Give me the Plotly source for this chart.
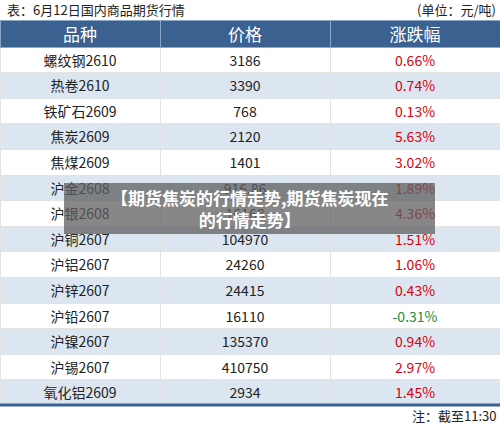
import plotly.graph_objects as go

names = ["螺纹钢2610","热卷2610","铁矿石2609","焦炭2609","焦煤2609","沪金2608","沪银2608","沪铜2607",
         "沪铝2607","沪锌2607","沪铅2607","沪镍2607","沪锡2607","氧化铝2609"]
prices = ["3186","3390","768","2120","1401","916.86","16168","104970","24260","24415","16110","135370","410750","2934"]
changes = [0.66,0.74,0.13,5.63,3.02,1.89,4.36,1.51,1.06,0.43,-0.31,0.94,2.97,1.45]
headers = ["品种","价格","涨跌幅"]

W, H = 500, 427
FONT = "Noto Sans CJK SC"
fills = ["#ffffff" if i % 2 == 0 else "#dce6f1" for i in range(len(names))]
ccol = ["#d7000f" if c > 0 else "#1e8c3a" for c in changes]
ctxt = [f"{c:.2f}%" for c in changes]

fig = go.Figure(go.Table(
    domain=dict(x=[0, 1], y=[0, 1 - 20 / H]),
    columnwidth=[160, 170, 170],
    header=dict(values=headers, fill_color="#3a6190", height=27,
                font=dict(family=FONT, size=17, color="white"),
                line=dict(color="#8aa6c8", width=1), align="center"),
    cells=dict(values=[names, prices, ctxt], height=25.6,
               fill_color=[fills, fills, fills],
               font=dict(family=FONT, size=14, color=["#222222", "#222222", ccol]),
               line=dict(color="#e2e2e2", width=1), align="center"),
))
fig.add_shape(type="line", xref="paper", yref="paper", x0=0, x1=1,
              y0=1 - 405 / H, y1=1 - 405 / H, line=dict(color="#3a6190", width=3))
fig.add_annotation(x=0.01, y=1 - 9 / H, xref="paper", yref="paper", xanchor="left", yanchor="middle",
                   text="表：6月12日国内商品期货行情", showarrow=False,
                   font=dict(family=FONT, size=13, color="#222"))
fig.add_annotation(x=0.995, y=1 - 9 / H, xref="paper", yref="paper", xanchor="right", yanchor="middle",
                   text="(单位：元/吨)", showarrow=False, font=dict(family=FONT, size=13, color="#222"))
fig.add_annotation(x=0.995, y=1 - 415 / H, xref="paper", yref="paper", xanchor="right", yanchor="middle",
                   text="注：截至11:30", showarrow=False, font=dict(family=FONT, size=13, color="#222"))
fig.add_shape(type="rect", xref="paper", yref="paper", x0=64 / W, x1=435 / W,
              y0=1 - 234 / H, y1=1 - 183 / H, fillcolor="rgba(95,95,95,0.75)", line=dict(width=0))
fig.add_annotation(x=0.5, y=1 - 208.5 / H, xref="paper", yref="paper", showarrow=False,
                   text="<b>【期货焦炭的行情走势,期货焦炭现在<br>的行情走势】</b>",
                   font=dict(family=FONT, size=17, color="white"))
fig.update_layout(width=W, height=H, margin=dict(l=0, r=0, t=0, b=0),
                  paper_bgcolor="white", plot_bgcolor="white")
fig.write_html("out.html", config={"displayModeBar": False},
               post_script="document.body.style.margin='0';document.body.style.overflow='hidden';")
